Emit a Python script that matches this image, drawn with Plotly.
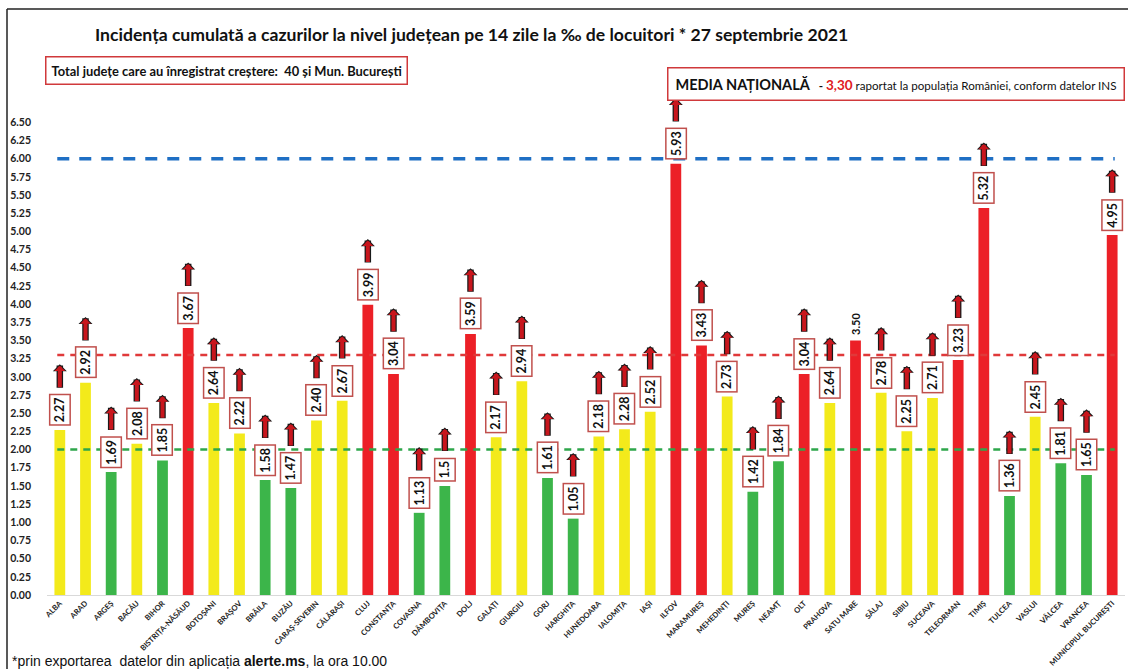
import plotly.graph_objects as go

# ---------------- data ----------------
counties = ["ALBA", "ARAD", "ARGEȘ", "BACĂU", "BIHOR", "BISTRIȚA-NĂSĂUD", "BOTOȘANI",
            "BRAȘOV", "BRĂILA", "BUZĂU", "CARAȘ-SEVERIN", "CĂLĂRAȘI", "CLUJ", "CONSTANȚA",
            "COVASNA", "DÂMBOVIȚA", "DOLJ", "GALAȚI", "GIURGIU", "GORJ", "HARGHITA",
            "HUNEDOARA", "IALOMIȚA", "IAȘI", "ILFOV", "MARAMUREȘ", "MEHEDINȚI", "MUREȘ",
            "NEAMȚ", "OLT", "PRAHOVA", "SATU MARE", "SĂLAJ", "SIBIU", "SUCEAVA",
            "TELEORMAN", "TIMIȘ", "TULCEA", "VASLUI", "VÂLCEA", "VRANCEA",
            "MUNICIPIUL BUCUREȘTI"]
values = [2.27, 2.92, 1.69, 2.08, 1.85, 3.67, 2.64, 2.22, 1.58, 1.47, 2.40, 2.67, 3.99,
          3.04, 1.13, 1.50, 3.59, 2.17, 2.94, 1.61, 1.05, 2.18, 2.28, 2.52, 5.93, 3.43,
          2.73, 1.42, 1.84, 3.04, 2.64, 3.50, 2.78, 2.25, 2.71, 3.23, 5.32, 1.36, 2.45,
          1.81, 1.65, 4.95]
labels = ["2.27", "2.92", "1.69", "2.08", "1.85", "3.67", "2.64", "2.22", "1.58", "1.47",
          "2.40", "2.67", "3.99", "3.04", "1.13", "1.5", "3.59", "2.17", "2.94", "1.61",
          "1.05", "2.18", "2.28", "2.52", "5.93", "3.43", "2.73", "1.42", "1.84", "3.04",
          "2.64", "3.50", "2.78", "2.25", "2.71", "3.23", "5.32", "1.36", "2.45", "1.81",
          "1.65", "4.95"]
# counties with an increase (boxed label + arrow); SATU MARE has none
rising = [c != "SATU MARE" for c in counties]

ref_values = [6.0, 3.30, 2.0]
ref_colors = ["#1f6fc4", "#e0393a", "#2ea64b"]
ref_dash = ["12px,10px", "7px,6px", "7px,6px"]
ref_widths = [3.5, 2.5, 2.5]

title_text = "Incidența cumulată a cazurilor la nivel județean pe 14 zile la ‰ de locuitori * 27 septembrie 2021"
left_box_text = "Total județe care au înregistrat creștere:  40 și Mun. București"
footer_text = "*prin exportarea  datelor din aplicația <b>alerte.ms</b>, la ora 10.00"

GREEN, YELLOW, RED = "#3cb54a", "#f3ea1b", "#ec2027"


def bar_color(v):
    if v < 2.0:
        return GREEN
    if v < 3.0:
        return YELLOW
    return RED


colors = [bar_color(v) for v in values]

# ---------------- layout geometry ----------------
W, H = 1128, 669
ML, MR, MT, MB = 47, 3, 115, 74
PW, PH = W - ML - MR, H - MT - MB


def px_x(px):
    return (px - ML) / PW


def px_y(py):
    return (H - MB - py) / PH


fig = go.Figure()
fig.add_trace(go.Bar(x=counties, y=values, marker=dict(color=colors, line=dict(width=0)),
                     width=0.42, hoverinfo="x+y"))

# reference dashed lines
for v, c, d, w in zip(ref_values, ref_colors, ref_dash, ref_widths):
    fig.add_shape(type="line", xref="x", yref="y", x0=-0.1, x1=len(counties) - 0.9,
                  y0=v, y1=v, line=dict(color=c, dash=d, width=w), layer="above")

annotations = []
LABEL_FONT = dict(family="Lato", size=12.5, color="#111", weight="bold")
for c, v, lab, up in zip(counties, values, labels, rising):
    if up:
        annotations.append(dict(x=c, y=v, xref="x", yref="y", text=lab, textangle=-90,
                                showarrow=False, yanchor="bottom", yshift=4,
                                font=LABEL_FONT, bgcolor="white", bordercolor="#c0504d",
                                borderwidth=1.5, borderpad=2))
        box_len = sum(3.3 if ch == "." else 7.3 for ch in lab) + 4 + 3
        head = 4 + box_len + 3 + 25
        # black outline arrow
        annotations.append(dict(x=c, y=v, xref="x", yref="y", text="", showarrow=True,
                                ax=0, ay=25, yshift=head + 1.5, arrowhead=1,
                                arrowwidth=6.5, arrowsize=0.36, arrowcolor="#1a1a1a",
                                standoff=0, startstandoff=0))
        # red arrow
        annotations.append(dict(x=c, y=v, xref="x", yref="y", text="", showarrow=True,
                                ax=0, ay=23, yshift=head, arrowhead=1,
                                arrowwidth=4, arrowsize=0.45, arrowcolor="#c8161d",
                                standoff=0, startstandoff=0))
    else:
        annotations.append(dict(x=c, y=v, xref="x", yref="y", text=lab, textangle=-90,
                                showarrow=False, yanchor="bottom", yshift=3,
                                font=dict(family="Lato", size=11, color="#111", weight="bold")))

# title
annotations.append(dict(xref="paper", yref="paper", x=px_x(93), y=px_y(35), xanchor="left",
                        yanchor="middle", showarrow=False, text="<b>" + title_text + "</b>",
                        font=dict(family="Lato", size=17.6, color="#111")))
# left box
annotations.append(dict(xref="paper", yref="paper", x=px_x(45), y=px_y(70), xanchor="left",
                        yanchor="middle", showarrow=False, text="<b>" + left_box_text + "</b>",
                        font=dict(family="Lato", size=12.9, color="#111"), bgcolor="white",
                        bordercolor="#d0393b", borderwidth=1.5, borderpad=5))
# right box
annotations.append(dict(xref="paper", yref="paper", x=px_x(1125), y=px_y(84), xanchor="right",
                        yanchor="middle", showarrow=False,
                        text="<b><span style='font-size:14.5px'>MEDIA NAȚIONALĂ</span></b>"
                             "   <b>-</b> <b><span style='color:#e0201f;font-size:13.5px'>3,30</span></b> "
                             "raportat la populația României, conform datelor INS",
                        font=dict(family="Lato", size=11.6, color="#111"), bgcolor="white",
                        bordercolor="#d0393b", borderwidth=1.5, borderpad=7))
# footer
annotations.append(dict(xref="paper", yref="paper", x=px_x(10), y=px_y(661), xanchor="left",
                        yanchor="middle", showarrow=False, text=footer_text,
                        font=dict(family="Liberation Sans", size=14, color="#111")))

# frame lines (top and left)
fig.add_shape(type="line", xref="paper", yref="paper", x0=px_x(7), x1=px_x(W + 2),
              y0=px_y(9), y1=px_y(9), line=dict(color="#222", width=1.5))
fig.add_shape(type="line", xref="paper", yref="paper", x0=px_x(7), x1=px_x(7),
              y0=px_y(9), y1=px_y(H + 2), line=dict(color="#222", width=1.5))

fig.update_layout(
    width=W, height=H,
    margin=dict(l=ML, r=MR, t=MT, b=MB, autoexpand=False),
    paper_bgcolor="white", plot_bgcolor="white",
    showlegend=False,
    annotations=annotations,
    bargap=0.5,
    xaxis=dict(type="category", range=[-0.5, len(counties) - 0.5], tickangle=-45,
               tickfont=dict(family="Lato", size=7.6, color="#222", weight="bold"),
               showgrid=False, showline=True, linecolor="#d9d9d9", linewidth=1,
               ticks="", zeroline=False, automargin=False),
    yaxis=dict(range=[0, 6.6], tick0=0, dtick=0.25, tickformat=".2f",
               tickfont=dict(family="Lato", size=10.5, color="#222", weight="bold"),
               showgrid=False, zeroline=False, showline=False, ticks="",
               ticklabelstandoff=15, automargin=False),
)

fig.write_html(
    "out.html",
    config={"displayModeBar": False},
    post_script="document.body.style.margin='0';document.body.style.overflow='hidden';",
)
